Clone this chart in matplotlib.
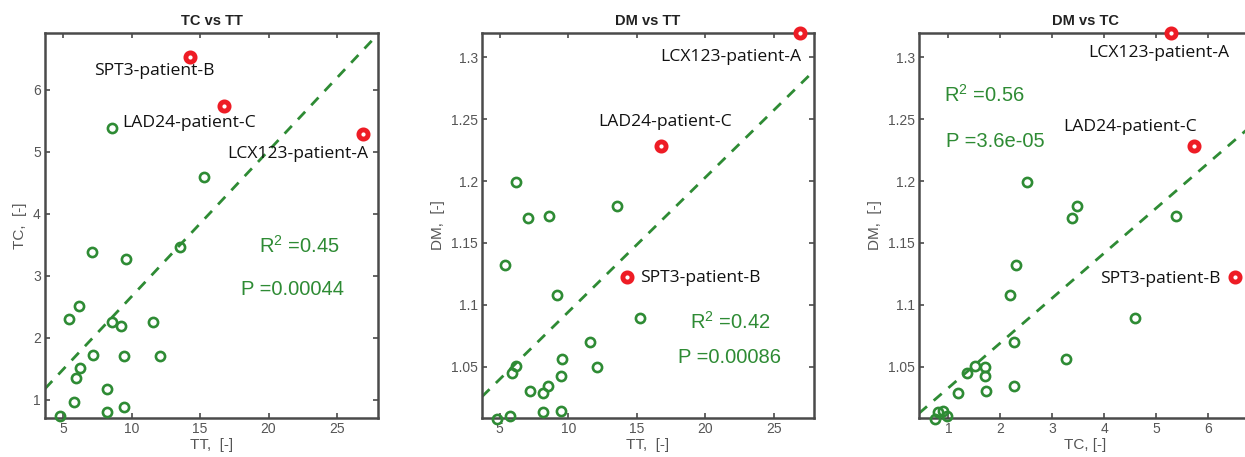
import matplotlib

matplotlib.use("Agg")
import matplotlib.pyplot as plt
import numpy as np

plt.rcParams["font.family"] = ["Liberation Sans", "DejaVu Sans"]
plt.rcParams["mathtext.fontset"] = "custom"
plt.rcParams["mathtext.rm"] = "Liberation Sans"
plt.rcParams["mathtext.it"] = "Liberation Sans"

# patients (green markers); last three are the labelled outliers
tt = [6.17, 13.55, 7.07, 8.59, 5.39, 9.19, 15.26, 11.56, 9.55, 12.10,
      6.21, 5.91, 9.46, 7.18, 8.55, 8.17, 8.17, 9.46, 5.78, 4.78,
      26.88, 16.73, 14.29]
tc = [2.51, 3.47, 3.39, 5.38, 2.30, 2.19, 4.59, 2.26, 3.27, 1.71,
      1.52, 1.36, 1.71, 1.72, 2.26, 1.18, 0.80, 0.89, 0.97, 0.74,
      5.28, 5.73, 6.52]
dm = [1.199, 1.180, 1.170, 1.172, 1.132, 1.108, 1.089, 1.070, 1.056, 1.050,
      1.0505, 1.0446, 1.0425, 1.030, 1.034, 1.029, 1.0135, 1.0145, 1.0104, 1.008,
      1.320, 1.228, 1.1225]
outlier_names = ["LCX123-patient-A", "LAD24-patient-C", "SPT3-patient-B"]

# regression lines: slope, intercept
fit_tc_tt = (0.2346, 0.323)
fit_dm_tt = (0.01088, 0.9854)
fit_dm_tc = (0.0363, 0.9965)

stats_tc_tt = ("0.45", "0.00044")
stats_dm_tt = ("0.42", "0.00086")
stats_dm_tc = ("0.56", "3.6e-05")

GREEN = "#2e8b34"
RED = "#ee1c25"
FRAME = "#4a4a4a"
TICK = "#555555"

W, H = 1245, 457
fig = plt.figure(figsize=(W / 100, H / 100), dpi=100)


def add_axes(left_px, right_px, top_px=33, bottom_px=418):
    return fig.add_axes([left_px / W, 1 - bottom_px / H,
                         (right_px - left_px) / W, (bottom_px - top_px) / H])


def draw_panel(ax, x, y, fit, xlim, ylim, xticks, yticks, xticklabels, yticklabels,
               title, xlabel, ylabel, labels_at, stats, stats_at):
    xs = np.array(xlim)
    ax.plot(xs, fit[0] * xs + fit[1], linestyle=(0, (3.8, 3.2)), color=GREEN,
            lw=2.0, zorder=2)
    ax.plot(x, y, "o", ms=6.6, mfc="none", mec=GREEN, mew=1.9, zorder=3,
            clip_on=False)
    ax.plot(x[-3:], y[-3:], "o", ms=6.6, mfc="white", mec=RED, mew=3.5, zorder=4,
            clip_on=False)
    for name, (lx, ly) in zip(outlier_names, labels_at):
        ax.text(lx, ly, name, ha="left", va="center", fontsize=12.6,
                family=["Open Sans", "DejaVu Sans"], color="#111111")
    ax.text(stats_at[0][0], stats_at[0][1], r"R$^{\mathrm{2}}$ =" + stats[0],
            ha="left", va="center", fontsize=14.5, color=GREEN)
    ax.text(stats_at[1][0], stats_at[1][1], "P =" + stats[1],
            ha="left", va="center", fontsize=14.5, color=GREEN)
    ax.set_xlim(*xlim)
    ax.set_ylim(*ylim)
    ax.set_xticks(xticks)
    ax.set_xticklabels(xticklabels)
    ax.set_yticks(yticks)
    ax.set_yticklabels(yticklabels)
    ax.tick_params(direction="in", length=3.5, width=1.2, color=FRAME,
                   labelsize=10, labelcolor=TICK, top=True, right=True, pad=3)
    for spine in ax.spines.values():
        spine.set_color(FRAME)
        spine.set_linewidth(1.8)
    ax.set_title(title, fontsize=10.5, fontweight="bold", color="#222222", pad=6)
    ax.set_xlabel(xlabel, fontsize=11, color=TICK, labelpad=1)
    ax.set_ylabel(ylabel, fontsize=11, color=TICK, labelpad=4)


ax1 = add_axes(45, 378)
draw_panel(ax1, np.array(tt), np.array(tc), fit_tc_tt, (3.66, 28.0), (0.71, 6.91),
           [5, 10, 15, 20, 25], [1, 2, 3, 4, 5, 6],
           ["5", "10", "15", "20", "25"], ["1", "2", "3", "4", "5", "6"],
           "TC vs TT", "TT,  [-]", "TC,  [-]",
           [(16.95, 4.96), (9.34, 5.46), (7.27, 6.295)],
           stats_tc_tt, [(19.29, 3.49), (17.98, 2.78)])

ax2 = add_axes(482, 814)
draw_panel(ax2, np.array(tt), np.array(dm), fit_dm_tt, (3.71, 27.92), (1.0085, 1.3197),
           [5, 10, 15, 20, 25], [1.05, 1.1, 1.15, 1.2, 1.25, 1.3],
           ["5", "10", "15", "20", "25"], ["1.05", "1.1", "1.15", "1.2", "1.25", "1.3"],
           "DM vs TT", "TT,  [-]", "DM,  [-]",
           [(16.71, 1.300), (12.22, 1.248), (15.23, 1.1214)],
           stats_dm_tt, [(18.90, 1.0864), (18.03, 1.0573)])

ax3 = add_axes(919, 1252)
draw_panel(ax3, np.array(tc), np.array(dm), fit_dm_tc, (0.435, 6.85), (1.0085, 1.3197),
           [1, 2, 3, 4, 5, 6], [1.05, 1.1, 1.15, 1.2, 1.25, 1.3],
           ["1", "2", "3", "4", "5", "6"], ["1.05", "1.1", "1.15", "1.2", "1.25", "1.3"],
           "DM vs TC", "TC, [-]", "DM,  [-]",
           [(3.70, 1.3032), (3.22, 1.244), (3.92, 1.1206)],
           stats_dm_tc, [(0.923, 1.2696), (0.949, 1.2318)])

fig.savefig("out.png", dpi=100)
